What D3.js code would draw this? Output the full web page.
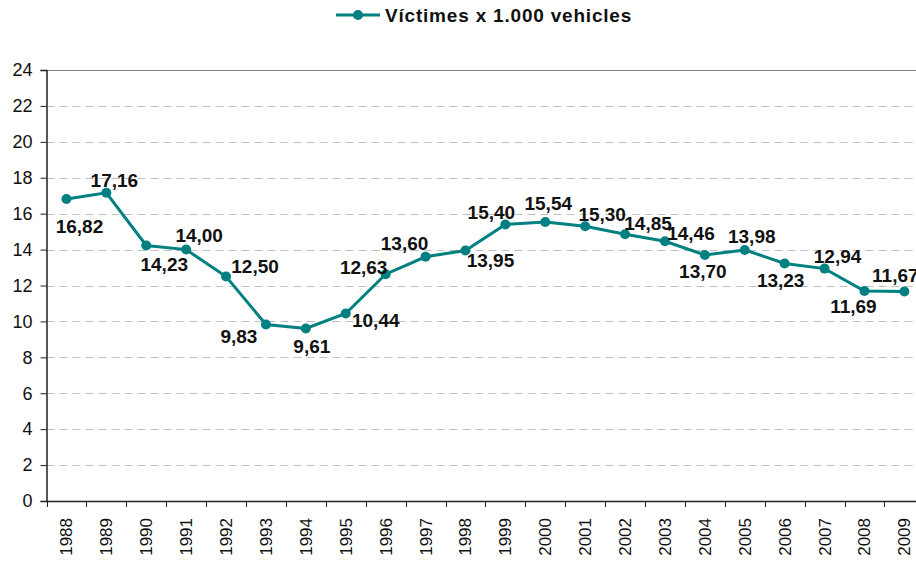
<!DOCTYPE html>
<html>
<head>
<meta charset="utf-8">
<title></title>
<script src="https://cdnjs.cloudflare.com/ajax/libs/d3/7.8.5/d3.min.js"></script>
<style>
  body { margin: 0; background: white; }
  svg { display: block; font-family: "Liberation Sans", Arial, sans-serif; }
</style>
</head>
<body>
<div id="chart"></div>
<script>
var years = ["1988","1989","1990","1991","1992","1993","1994","1995","1996","1997","1998",
             "1999","2000","2001","2002","2003","2004","2005","2006","2007","2008","2009"];
var victims = [16.82,17.16,14.23,14.00,12.50,9.83,9.61,10.44,12.63,13.60,13.95,
               15.40,15.54,15.30,14.85,14.46,13.70,13.98,13.23,12.94,11.69,11.67];
var yTicks = [0,2,4,6,8,10,12,14,16,18,20,22,24];
var seriesName = "Víctimes x 1.000 vehicles";

// where each value label sits relative to its point (dx, dy)
var labelOffsets = [[13,27],[8,-13],[18,19],[13,-14],[29,-10],[-27,12],[6,18],[30,7],
                    [-22,-7],[-21,-14],[25,10],[-14,-12],[3,-19],[17,-12],[23,-11],[26,-8],
                    [-2,16],[7,-14],[-4,17],[13,-12],[-11,15],[-9,-16]];

var W = 916, H = 562;
var plotLeft = 46.5, plotTop = 70, plotBottom = 501;
var band = 39.9;
var plotRight = plotLeft + band * years.length;
var teal = "#008080";

var svg = d3.select("#chart").append("svg")
    .attr("width", W).attr("height", H);

var x = d3.scaleBand().domain(years).range([plotLeft, plotRight]);
var y = d3.scaleLinear().domain([0, 24]).range([plotBottom, plotTop]);

// gridlines
svg.append("g").selectAll("line")
    .data(yTicks.filter(function(d){ return d > 0; }))
  .enter().append("line")
    .attr("x1", plotLeft).attr("x2", W)
    .attr("y1", function(d){ return Math.round(y(d)) + 0.5; })
    .attr("y2", function(d){ return Math.round(y(d)) + 0.5; })
    .attr("stroke", function(d){ return d === 24 ? "#808080" : "#c0c0c0"; })
    .attr("stroke-width", 1)
    .attr("stroke-dasharray", function(d){ return d === 24 ? null : "8,5"; });

// y axis
var yAxis = d3.axisLeft(y).tickValues(yTicks).tickSize(6).tickPadding(8)
    .tickFormat(d3.format("d"));
var gy = svg.append("g").attr("transform", "translate(" + plotLeft + ",0)").call(yAxis);
gy.select(".domain").attr("stroke", "#222").attr("stroke-width", 1.5);
gy.selectAll(".tick line").attr("stroke", "#222");
gy.selectAll("text").attr("font-size", 18).attr("fill", "#111")
    .attr("font-family", "Liberation Sans, Arial, sans-serif");

// x axis
var gx = svg.append("g").attr("transform", "translate(0," + plotBottom + ")");
gx.append("line").attr("x1", plotLeft).attr("x2", W).attr("y1", 0.5).attr("y2", 0.5)
    .attr("stroke", "#222").attr("stroke-width", 1.5);
gx.selectAll("line.tk").data(years)
  .enter().append("line").attr("class", "tk")
    .attr("x1", function(d){ return Math.round(x(d)) + 0.5; })
    .attr("x2", function(d){ return Math.round(x(d)) + 0.5; })
    .attr("y1", 0).attr("y2", 6).attr("stroke", "#222");
gx.selectAll("text").data(years)
  .enter().append("text")
    .attr("transform", function(d){
      return "translate(" + (x(d) + x.bandwidth() / 2 + 6) + ",17) rotate(-90)";
    })
    .attr("text-anchor", "end")
    .attr("font-size", 17).attr("fill", "#111")
    .text(function(d){ return d; });

// line
var line = d3.line()
    .x(function(d, i){ return x(years[i]) + x.bandwidth() / 2; })
    .y(function(d){ return y(d); });
svg.append("path").datum(victims)
    .attr("d", line).attr("fill", "none")
    .attr("stroke", teal).attr("stroke-width", 3);

svg.append("g").selectAll("circle").data(victims)
  .enter().append("circle")
    .attr("cx", function(d, i){ return x(years[i]) + x.bandwidth() / 2; })
    .attr("cy", function(d){ return y(d); })
    .attr("r", 5).attr("fill", teal);

// value labels
var fmt = function(d){ return d.toFixed(2).replace(".", ","); };
svg.append("g").selectAll("text").data(victims)
  .enter().append("text")
    .attr("x", function(d, i){ return x(years[i]) + x.bandwidth() / 2 + labelOffsets[i][0]; })
    .attr("y", function(d, i){ return y(d) + labelOffsets[i][1]; })
    .attr("dy", "0.36em")
    .attr("text-anchor", "middle")
    .attr("font-size", 19).attr("font-weight", "bold").attr("fill", "#111")
    .text(fmt);

// legend
var lg = svg.append("g").attr("transform", "translate(336,15)");
lg.append("line").attr("x1", 0).attr("x2", 44).attr("y1", 0).attr("y2", 0)
    .attr("stroke", teal).attr("stroke-width", 3);
lg.append("circle").attr("cx", 22).attr("cy", 0).attr("r", 5).attr("fill", teal);
lg.append("text").attr("x", 49).attr("y", 0).attr("dy", "0.36em")
    .attr("font-size", 19).attr("font-weight", "bold").attr("fill", "#111")
    .attr("letter-spacing", 0.8)
    .text(seriesName);
</script>
</body>
</html>
